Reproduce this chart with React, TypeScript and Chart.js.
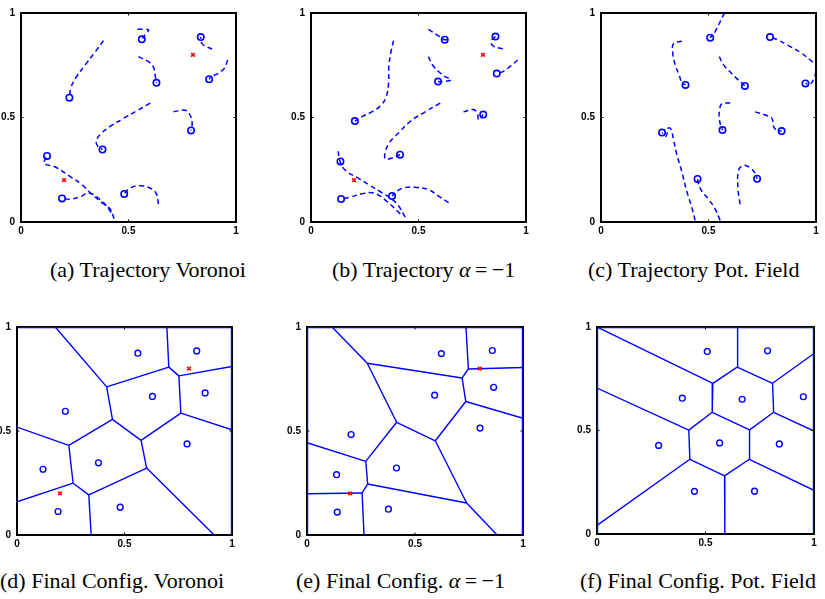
import React, { useEffect, useRef } from "react";
import { Chart, registerables } from "chart.js";
Chart.register(...registerables);

type P = [number, number];
type E = [number, number];

const BLUE = "#0000ff";
const RED = "#ff0000";

// ---------- data ----------
const tickValues = [0, 0.5, 1];
const tickLabels = ["0", "0.5", "1"];
const targets: P[] = [[0.2, 0.2], [0.8, 0.8]];

const finalVoronoi: P[] = [
  [0.562, 0.874], [0.836, 0.885], [0.630, 0.666], [0.875, 0.683], [0.225, 0.595],
  [0.791, 0.438], [0.379, 0.347], [0.121, 0.316], [0.191, 0.113], [0.480, 0.134],
];
const finalAlpha: P[] = [
  [0.622, 0.872], [0.858, 0.887], [0.591, 0.672], [0.864, 0.710], [0.204, 0.483],
  [0.801, 0.514], [0.414, 0.322], [0.137, 0.290], [0.140, 0.110], [0.377, 0.124],
];
const finalPot: P[] = [
  [0.508, 0.882], [0.786, 0.885], [0.393, 0.656], [0.669, 0.651], [0.951, 0.663],
  [0.284, 0.428], [0.565, 0.440], [0.840, 0.435], [0.449, 0.206], [0.726, 0.207],
];

const trajVoronoi: P[][] = [
  [[0.542, 0.922], [0.593, 0.919], [0.579, 0.899], [0.562, 0.874]],
  [[0.889, 0.828], [0.851, 0.845], [0.836, 0.864], [0.836, 0.885]],
  [[0.546, 0.791], [0.593, 0.767], [0.616, 0.741], [0.624, 0.702], [0.630, 0.666]],
  [[0.961, 0.775], [0.946, 0.736], [0.913, 0.709], [0.882, 0.693], [0.875, 0.683]],
  [[0.384, 0.868], [0.345, 0.814], [0.299, 0.752], [0.257, 0.693], [0.232, 0.643], [0.225, 0.595]],
  [[0.709, 0.527], [0.763, 0.535], [0.786, 0.512], [0.796, 0.473], [0.791, 0.438]],
  [[0.601, 0.569], [0.539, 0.532], [0.477, 0.496], [0.415, 0.457], [0.368, 0.419], [0.350, 0.388], [0.356, 0.364], [0.379, 0.347]],
  [[0.433, 0.016], [0.415, 0.062], [0.376, 0.093], [0.330, 0.132], [0.283, 0.179], [0.229, 0.217], [0.159, 0.263], [0.108, 0.279], [0.113, 0.302], [0.121, 0.316]],
  [[0.420, 0.045], [0.376, 0.100], [0.314, 0.140], [0.283, 0.124], [0.229, 0.109], [0.191, 0.113]],
  [[0.639, 0.086], [0.631, 0.132], [0.608, 0.158], [0.554, 0.174], [0.508, 0.163], [0.480, 0.134]],
];
const trajAlpha: P[][] = [
  [[0.546, 0.922], [0.593, 0.891], [0.622, 0.872], [0.645, 0.877]],
  [[0.892, 0.829], [0.848, 0.842], [0.837, 0.864], [0.858, 0.887]],
  [[0.546, 0.791], [0.567, 0.749], [0.601, 0.713], [0.628, 0.693], [0.652, 0.681], [0.613, 0.671], [0.591, 0.672]],
  [[0.961, 0.775], [0.929, 0.747], [0.895, 0.721], [0.864, 0.710]],
  [[0.384, 0.868], [0.372, 0.814], [0.362, 0.744], [0.361, 0.667], [0.350, 0.600], [0.325, 0.558], [0.283, 0.527], [0.237, 0.504], [0.204, 0.483]],
  [[0.709, 0.527], [0.755, 0.538], [0.774, 0.519], [0.780, 0.488], [0.801, 0.514]],
  [[0.601, 0.569], [0.531, 0.527], [0.461, 0.481], [0.407, 0.426], [0.384, 0.403], [0.360, 0.372], [0.345, 0.333], [0.345, 0.302], [0.376, 0.306], [0.414, 0.322]],
  [[0.438, 0.023], [0.407, 0.078], [0.376, 0.109], [0.330, 0.140], [0.268, 0.179], [0.221, 0.209], [0.159, 0.248], [0.135, 0.290], [0.125, 0.352]],
  [[0.415, 0.039], [0.384, 0.070], [0.353, 0.098], [0.322, 0.124], [0.283, 0.140], [0.237, 0.135], [0.182, 0.119], [0.140, 0.110]],
  [[0.640, 0.093], [0.593, 0.124], [0.546, 0.155], [0.484, 0.166], [0.430, 0.163], [0.399, 0.147], [0.377, 0.124]],
];
const trajPot: P[][] = [
  [[0.575, 1.0], [0.562, 0.975], [0.548, 0.945], [0.530, 0.910], [0.508, 0.882]],
  [[0.985, 0.765], [0.930, 0.810], [0.870, 0.845], [0.820, 0.872], [0.786, 0.885]],
  [[0.376, 0.865], [0.337, 0.853], [0.334, 0.806], [0.345, 0.752], [0.365, 0.698], [0.376, 0.667], [0.393, 0.656]],
  [[0.550, 0.791], [0.570, 0.752], [0.598, 0.721], [0.632, 0.686], [0.655, 0.665], [0.669, 0.651]],
  [[1.0, 0.720], [0.992, 0.690], [0.975, 0.662], [0.951, 0.663]],
  [[0.438, 0.008], [0.422, 0.070], [0.399, 0.147], [0.376, 0.240], [0.352, 0.326], [0.337, 0.395], [0.325, 0.445], [0.313, 0.450], [0.303, 0.411], [0.284, 0.428]],
  [[0.601, 0.569], [0.562, 0.566], [0.551, 0.535], [0.550, 0.496], [0.557, 0.460], [0.565, 0.440]],
  [[0.717, 0.527], [0.764, 0.512], [0.795, 0.496], [0.802, 0.458], [0.818, 0.439], [0.840, 0.435]],
  [[0.554, 0.008], [0.531, 0.062], [0.500, 0.109], [0.469, 0.147], [0.453, 0.186], [0.449, 0.206]],
  [[0.647, 0.085], [0.637, 0.163], [0.640, 0.248], [0.663, 0.271], [0.694, 0.259], [0.717, 0.233], [0.726, 0.207]],
];

const vertsVoronoi: P[] = [
  [0.178, 1.0], [0.417, 0.712], [0.706, 0.807], [0.697, 1.0], [0.753, 0.765], [1.0, 0.810],
  [0.762, 0.586], [1.0, 0.506], [0.444, 0.556], [0.577, 0.455], [0.241, 0.431], [0.0, 0.519],
  [0.261, 0.249], [0.0, 0.160], [0.334, 0.193], [0.345, 0.0], [0.603, 0.322], [0.917, 0.0],
];
const vertsAlpha: P[] = [
  [0.116, 1.0], [0.279, 0.826], [0.718, 0.755], [0.736, 1.0], [0.747, 0.798], [1.0, 0.805],
  [0.735, 0.642], [1.0, 0.561], [0.415, 0.542], [0.594, 0.453], [0.272, 0.354], [0.0, 0.444],
  [0.281, 0.245], [0.255, 0.202], [0.0, 0.198], [0.264, 0.0], [0.739, 0.154], [0.880, 0.0],
];
const vertsPot: P[] = [
  [0.0, 1.0], [0.534, 0.728], [0.648, 1.0], [0.646, 0.806], [0.809, 0.728], [1.0, 0.872],
  [0.814, 0.588], [1.0, 0.497], [0.531, 0.588], [0.703, 0.503], [0.423, 0.502], [0.0, 0.705],
  [0.428, 0.361], [0.0, 0.042], [0.588, 0.281], [0.589, 0.0], [0.702, 0.361], [1.0, 0.211],
];
const edgesVoronoi: E[] = [
  [0, 1], [1, 2], [2, 3], [2, 4], [4, 5], [4, 6], [6, 7], [6, 9], [1, 8], [8, 9],
  [8, 10], [10, 11], [10, 12], [12, 13], [12, 14], [14, 15], [14, 16], [16, 9], [16, 17],
];
const edgesAlpha: E[] = [
  [0, 1], [1, 2], [2, 4], [4, 3], [4, 5], [2, 6], [6, 7], [6, 9], [1, 8], [8, 9],
  [8, 10], [10, 11], [10, 12], [12, 13], [13, 14], [13, 15], [12, 16], [16, 9], [16, 17],
];
const edgesPot: E[] = [
  [0, 1], [1, 3], [3, 2], [3, 4], [4, 5], [4, 6], [6, 7], [6, 9], [1, 8], [8, 9],
  [8, 10], [10, 11], [10, 12], [12, 13], [12, 14], [14, 15], [14, 16], [16, 9], [16, 17],
];
// boundary sides of the unit square drawn in blue
const boundaryVoronoi: P[] = [[0, 1], [1, 1], [1, 0]];
const boundaryAlpha: P[] = [[0, 0], [0, 1], [1, 1], [1, 0]];
const boundaryPot: P[] = [[0, 0], [0, 1], [1, 1], [1, 0]];

// ---------- dataset builders ----------
const xy = (p: P[]) => p.map(([x, y]) => ({ x, y }));

function markerSets(finals: P[], showTargets: boolean, r: number, bw: number) {
  const ds: any[] = [];
  if (showTargets)
    ds.push({
      data: xy(targets), showLine: false, pointStyle: "crossRot", pointRadius: 2.6,
      borderColor: RED, borderWidth: 1.6,
    });
  ds.push({
    data: xy(finals), showLine: false, pointStyle: "circle", pointRadius: r,
    borderColor: BLUE, backgroundColor: "rgba(0,0,0,0)", borderWidth: bw,
  });
  return ds;
}

function trajSets(paths: P[][], finals: P[], showTargets: boolean) {
  const ds = markerSets(finals, showTargets, 3.2, 1.6);
  paths.forEach((p) =>
    ds.push({
      data: xy(p), showLine: true, borderColor: BLUE, borderWidth: 1.5,
      borderDash: [5, 3.5], pointRadius: 0, tension: 0.4, fill: false,
    })
  );
  return ds;
}

function voronoiSets(verts: P[], edges: E[], boundary: P[], finals: P[], showTargets: boolean) {
  const ds = markerSets(finals, showTargets, 2.9, 1.4);
  edges.forEach(([a, b]) =>
    ds.push({
      data: xy([verts[a], verts[b]]), showLine: true, borderColor: BLUE,
      borderWidth: 1.4, pointRadius: 0, tension: 0, fill: false,
    })
  );
  ds.push({
    data: xy(boundary), showLine: true, borderColor: BLUE, borderWidth: 2.4,
    pointRadius: 0, tension: 0, fill: false,
  });
  return ds;
}

// ---------- chart ----------
const L = 28, PT = 6, PR = 8, B = 17;

function framePlugin(onTop: boolean) {
  const drawFrame = (chart: any) => {
    const { ctx, chartArea } = chart;
    const { left, top, right, bottom } = chartArea;
    ctx.save();
    ctx.strokeStyle = "#000";
    ctx.lineWidth = 2;
    ctx.strokeRect(left, top, right - left, bottom - top);
    ctx.restore();
  };
  return {
    id: "frame",
    beforeDatasetsDraw(chart: any) {
      if (!onTop) drawFrame(chart);
    },
    afterDatasetsDraw(chart: any) {
      if (onTop) drawFrame(chart);
    },
    afterDraw(chart: any) {
      const { ctx, chartArea, scales } = chart;
      const { left, top, right, bottom } = chartArea;
      const t = 2.5;
      ctx.save();
      ctx.strokeStyle = "#000";
      ctx.lineWidth = 1;
      ctx.beginPath();
      tickValues.forEach((v) => {
        const px = scales.x.getPixelForValue(v);
        const py = scales.y.getPixelForValue(v);
        ctx.moveTo(px, bottom); ctx.lineTo(px, bottom - t);
        ctx.moveTo(px, top); ctx.lineTo(px, top + t);
        ctx.moveTo(left, py); ctx.lineTo(left + t, py);
        ctx.moveTo(right, py); ctx.lineTo(right - t, py);
      });
      ctx.stroke();
      ctx.restore();
    },
  };
}

const tickFont = { family: "'Liberation Sans', Arial, sans-serif", size: 10, weight: "bold" as const };
const labelFor = (v: any) => {
  const i = tickValues.indexOf(Number(v));
  return i >= 0 ? tickLabels[i] : "";
};

function Panel(props: { left: number; top: number; w: number; h: number; datasets: any[]; frameOnTop: boolean }) {
  const { left, top, w, h, datasets, frameOnTop } = props;
  const ref = useRef<HTMLCanvasElement>(null);
  useEffect(() => {
    const chart = new Chart(ref.current as HTMLCanvasElement, {
      type: "scatter",
      data: { datasets },
      options: {
        responsive: false,
        animation: false,
        events: [],
        layout: { padding: { top: PT, right: PR, left: 0, bottom: 0 } },
        plugins: { legend: { display: false }, tooltip: { enabled: false } },
        scales: {
          x: {
            type: "linear", min: 0, max: 1,
            grid: { display: false, drawTicks: false },
            border: { display: false },
            ticks: { stepSize: 0.5, autoSkip: false, maxRotation: 0, padding: 3, color: "#000", font: tickFont, callback: labelFor },
            afterFit: (s: any) => { s.height = B; },
          },
          y: {
            type: "linear", min: 0, max: 1,
            grid: { display: false, drawTicks: false },
            border: { display: false },
            ticks: { stepSize: 0.5, autoSkip: false, padding: 6, color: "#000", font: tickFont, callback: labelFor },
            afterFit: (s: any) => { s.width = L; },
          },
        },
      } as any,
      plugins: [framePlugin(frameOnTop)],
    });
    return () => chart.destroy();
  }, []);
  const cw = w + L + PR;
  const ch = h + PT + B;
  return (
    <canvas
      ref={ref}
      width={cw}
      height={ch}
      style={{ position: "absolute", left: left - L, top: top - PT, width: cw, height: ch }}
    />
  );
}

const capStyle: React.CSSProperties = {
  position: "absolute",
  fontFamily: "'Liberation Serif', 'Times New Roman', serif",
  fontSize: 22,
  lineHeight: "22px",
  whiteSpace: "nowrap",
  color: "#000",
};

function Caption(props: { left: number; top: number; children: React.ReactNode }) {
  return <div style={{ ...capStyle, left: props.left, top: props.top }}>{props.children}</div>;
}

const Alpha = () => (
  <span>
    <i>α</i>&thinsp;=&thinsp;−1
  </span>
);

export default function App() {
  return (
    <div style={{ position: "absolute", left: 0, top: 0, width: 825, height: 599, background: "#fff", overflow: "hidden" }}>
      <Panel left={21} top={7} w={215} h={215} datasets={trajSets(trajVoronoi, finalVoronoi, true)} frameOnTop={true} />
      <Panel left={311} top={7} w={215} h={215} datasets={trajSets(trajAlpha, finalAlpha, true)} frameOnTop={true} />
      <Panel left={601} top={7} w={215} h={215} datasets={trajSets(trajPot, finalPot, false)} frameOnTop={true} />
      <Panel left={17} top={321} w={215} h={214} datasets={voronoiSets(vertsVoronoi, edgesVoronoi, boundaryVoronoi, finalVoronoi, true)} frameOnTop={false} />
      <Panel left={307} top={321} w={216} h={214} datasets={voronoiSets(vertsAlpha, edgesAlpha, boundaryAlpha, finalAlpha, true)} frameOnTop={false} />
      <Panel left={597} top={321} w={217} h={213} datasets={voronoiSets(vertsPot, edgesPot, boundaryPot, finalPot, false)} frameOnTop={false} />

      <Caption left={50} top={259}>(a) Trajectory Voronoi</Caption>
      <Caption left={332} top={259}>(b) Trajectory <Alpha /></Caption>
      <Caption left={588} top={259}>(c) Trajectory Pot. Field</Caption>
      <Caption left={0} top={570}>(d) Final Config. Voronoi</Caption>
      <Caption left={296} top={570}>(e) Final Config. <Alpha /></Caption>
      <Caption left={580} top={570}>(f) Final Config. Pot. Field</Caption>
    </div>
  );
}
